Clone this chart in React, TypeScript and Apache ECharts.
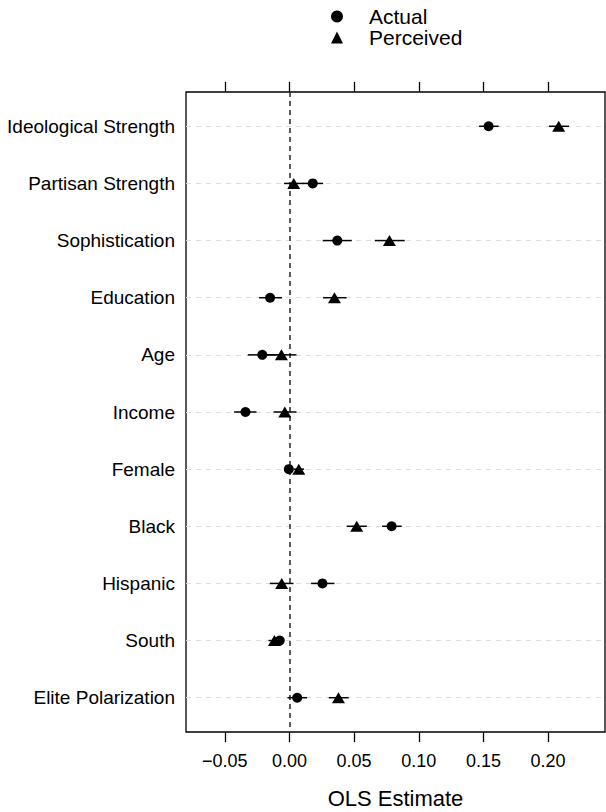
import React, { useEffect, useRef } from "react";
import * as echarts from "echarts";

const categories = [
  "Ideological Strength",
  "Partisan Strength",
  "Sophistication",
  "Education",
  "Age",
  "Income",
  "Female",
  "Black",
  "Hispanic",
  "South",
  "Elite Polarization",
];

const actualEst = [0.154, 0.018, 0.037, -0.015, -0.021, -0.034, -0.0005, 0.079, 0.0255, -0.0075, 0.006];
const actualLo = [0.1466, 0.0105, 0.0257, -0.0235, -0.0322, -0.0428, -0.004, 0.0716, 0.0167, -0.011, -0.0015];
const actualHi = [0.1618, 0.026, 0.0482, -0.0057, -0.01, -0.0255, 0.003, 0.0868, 0.0348, -0.004, 0.0136];

const perceivedEst = [0.2082, 0.0033, 0.0773, 0.0348, -0.0062, -0.0036, 0.0072, 0.052, -0.006, -0.0116, 0.0379];
const perceivedLo = [0.2007, -0.0042, 0.066, 0.026, -0.0175, -0.0124, 0.0035, 0.0443, -0.0152, -0.0162, 0.0304];
const perceivedHi = [0.2162, 0.011, 0.0891, 0.0441, 0.0054, 0.0054, 0.0113, 0.0598, 0.0031, -0.007, 0.0458];

const xTicks = [-0.05, 0, 0.05, 0.1, 0.15, 0.2];
const xMin = -0.08;
const xMax = 0.244;

const FONT = '"Liberation Sans", Arial, Helvetica, sans-serif';

function fmtTick(v: number): string {
  const s = Math.abs(v).toFixed(2);
  return v < -1e-9 ? "\u2212" + s : s;
}

function errorBarRender(params: any, api: any) {
  const lo = api.value(0);
  const hi = api.value(1);
  const y = api.value(2);
  const p1 = api.coord([lo, y]);
  const p2 = api.coord([hi, y]);
  return {
    type: "line",
    shape: { x1: p1[0], y1: p1[1], x2: p2[0], y2: p2[1] },
    style: { stroke: "#000", lineWidth: 1.5 },
  };
}

export default function App() {
  const ref = useRef<HTMLDivElement>(null);

  useEffect(() => {
    if (!ref.current) return;
    const chart = echarts.init(ref.current, undefined, { renderer: "svg" });
    const idx = categories.map((_, i) => i + 1);

    const option: any = {
      animation: false,
      backgroundColor: "#fff",
      textStyle: { fontFamily: FONT, color: "#000" },
      legend: {
        orient: "vertical",
        left: 326,
        top: 1,
        itemWidth: 12,
        itemHeight: 12,
        itemGap: 0,
        selectedMode: false,
        textStyle: { fontSize: 21, color: "#000", fontFamily: FONT, padding: [0, 0, 0, 21] },
        data: [
          { name: "Actual", icon: "circle" },
          { name: "Perceived", icon: "triangle" },
        ],
      },
      grid: {
        left: 186,
        right: 1,
        top: 92,
        bottom: 80,
        outerBoundsMode: "none",
        containLabel: false,
        show: true,
        borderColor: "#000",
        borderWidth: 1.3,
        backgroundColor: "transparent",
      },
      xAxis: [
        {
          type: "value",
          position: "bottom",
          min: xMin,
          max: xMax,
          axisLine: { show: false },
          splitLine: { show: false },
          axisTick: { show: true, length: 10, customValues: xTicks, lineStyle: { color: "#000", width: 1.3 } },
          axisLabel: {
            customValues: xTicks,
            formatter: (v: number) => fmtTick(v),
            fontSize: 18,
            color: "#000",
            fontFamily: FONT,
            margin: 20,
          },
          name: "OLS Estimate",
          nameLocation: "middle",
          nameGap: 55,
          nameTextStyle: { fontSize: 22, color: "#000", fontFamily: FONT },
        },
        {
          type: "value",
          position: "top",
          min: xMin,
          max: xMax,
          axisLine: { show: false },
          splitLine: { show: false },
          axisTick: { show: true, length: 10, customValues: xTicks, lineStyle: { color: "#000", width: 1.3 } },
          axisLabel: { show: false },
        },
      ],
      yAxis: {
        type: "value",
        min: 0.4,
        max: 11.6,
        inverse: true,
        axisLine: { show: false },
        axisTick: { show: false },
        splitLine: { show: false },
        axisLabel: {
          customValues: idx,
          formatter: (v: number) => categories[Math.round(v) - 1] ?? "",
          fontSize: 19,
          color: "#000",
          fontFamily: FONT,
          margin: 11,
        },
      },
      series: [
        {
          name: "refs",
          type: "scatter",
          data: [],
          silent: true,
          z: 1,
          markLine: {
            silent: true,
            z: 1,
            symbol: ["none", "none"],
            label: { show: false },
            emphasis: { disabled: true },
            data: [
              ...idx.map((i) => ({
                yAxis: i,
                lineStyle: { type: [5, 5], color: "#dcdcdc", width: 1 },
              })),
              {
                xAxis: 0,
                lineStyle: { type: [5, 4], color: "#333", width: 1.6 },
              },
            ],
          },
        },
        {
          name: "errA",
          type: "custom",
          renderItem: errorBarRender,
          encode: { x: [0, 1], y: 2 },
          data: actualLo.map((lo, i) => [lo, actualHi[i], i + 1]),
          silent: true,
          z: 3,
        },
        {
          name: "errP",
          type: "custom",
          renderItem: errorBarRender,
          encode: { x: [0, 1], y: 2 },
          data: perceivedLo.map((lo, i) => [lo, perceivedHi[i], i + 1]),
          silent: true,
          z: 3,
        },
        {
          name: "Actual",
          type: "scatter",
          symbol: "circle",
          symbolSize: 10,
          itemStyle: { color: "#000", opacity: 1 },
          data: actualEst.map((v, i) => [v, i + 1]),
          z: 4,
        },
        {
          name: "Perceived",
          type: "scatter",
          symbol: "triangle",
          symbolSize: [13, 11],
          itemStyle: { color: "#000", opacity: 1 },
          data: perceivedEst.map((v, i) => [v, i + 1]),
          z: 4,
        },
      ],
    };

    chart.setOption(option);
    return () => chart.dispose();
  }, []);

  return (
    <div
      ref={ref}
      style={{ position: "fixed", left: 0, top: 0, width: 606, height: 812, background: "#fff" }}
    />
  );
}
